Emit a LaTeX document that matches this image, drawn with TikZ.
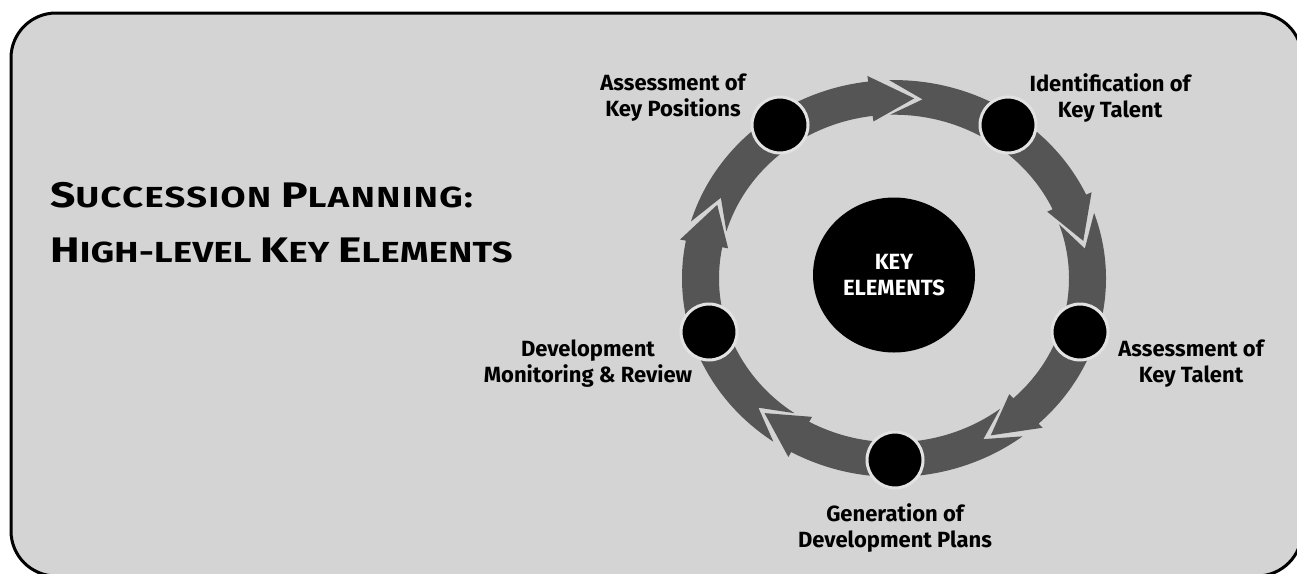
\documentclass[tikz,border=0pt]{standalone}
\usepackage{fontspec}
\setmainfont{Fira Sans}
\usetikzlibrary{shapes.geometric}
\definecolor{panel}{RGB}{212,212,212}
\definecolor{bandgrey}{RGB}{85,85,85}
\definecolor{dotrim}{RGB}{226,226,226}
\newcommand\capsbig[1]{{\fontsize{35.5}{55}\selectfont #1}}
\begin{document}
\begin{tikzpicture}[x=1pt,y=-1pt,
  lbl/.style={font=\fontsize{22}{26}\selectfont\bfseries, align=center, inner sep=0pt, text=black},
  dot/.style={circle, fill=black, draw=dotrim, line width=3pt, minimum size=56pt, inner sep=0pt},
  hub/.style={ellipse, fill=black, minimum width=162pt, minimum height=155pt, inner sep=0pt,
              align=center, text=white, font=\fontsize{22}{26}\selectfont\bfseries}]
\useasboundingbox (0,0) rectangle (1297,573);
\clip (0,0) rectangle (1297,573);

% rounded panel
\draw[line width=3pt, fill=panel, rounded corners=45pt] (11,13) rectangle (1302,576);

% title in caps and small caps
\node[anchor=west, align=left, inner sep=0pt, xscale=1.25, transform shape,
      font=\fontsize{29}{55}\selectfont\bfseries] (title) at (50,222.3)
  {{\addfontfeatures{LetterSpace=4}\capsbig{S}UCCESSION \capsbig{P}LANNING:}\\
   {\addfontfeatures{LetterSpace=1}\capsbig{H}IGH-LEVEL \capsbig{K}EY \capsbig{E}LEMENTS}};

% cycle of five curved arrows, clockwise
\begin{scope}[shift={(894,278.5)}, y=1pt, yscale=0.936]
  \foreach \p in {84,12,-60,-132,-204}{
    \fill[bandgrey]
      ({\p+79.3}:212) arc[start angle={\p+79.3}, end angle={\p+13}, radius=212]
      -- ({\p+13}:218) -- (\p:193.5) -- ({\p+13}:169) -- ({\p+13}:175)
      arc[start angle={\p+13}, end angle={\p+79.3}, radius=175]
      -- ({\p+69.5}:193.5) -- cycle;
  }
\end{scope}

% hub
\node[hub] (hub) at (894,275) {KEY\\ELEMENTS};

% stage markers
\node[dot] (d1) at (780,125) {};
\node[dot] (d2) at (1008,125) {};
\node[dot] (d3) at (1080,332) {};
\node[dot] (d4) at (895,460) {};
\node[dot] (d5) at (709,332) {};

% stage labels
\node[lbl] (l1) at (673,98) {Assessment of\\Key Positions};
\node[lbl] (l2) at (1110,98) {Identification of\\Key Talent};
\node[lbl] (l3) at (1191,363.5) {Assessment of\\Key Talent};
\node[lbl] (l4) at (895,528) {Generation of\\Development Plans};
\node[lbl] (l5) at (588,364) {Development\\Monitoring \& Review};
\end{tikzpicture}
\end{document}
